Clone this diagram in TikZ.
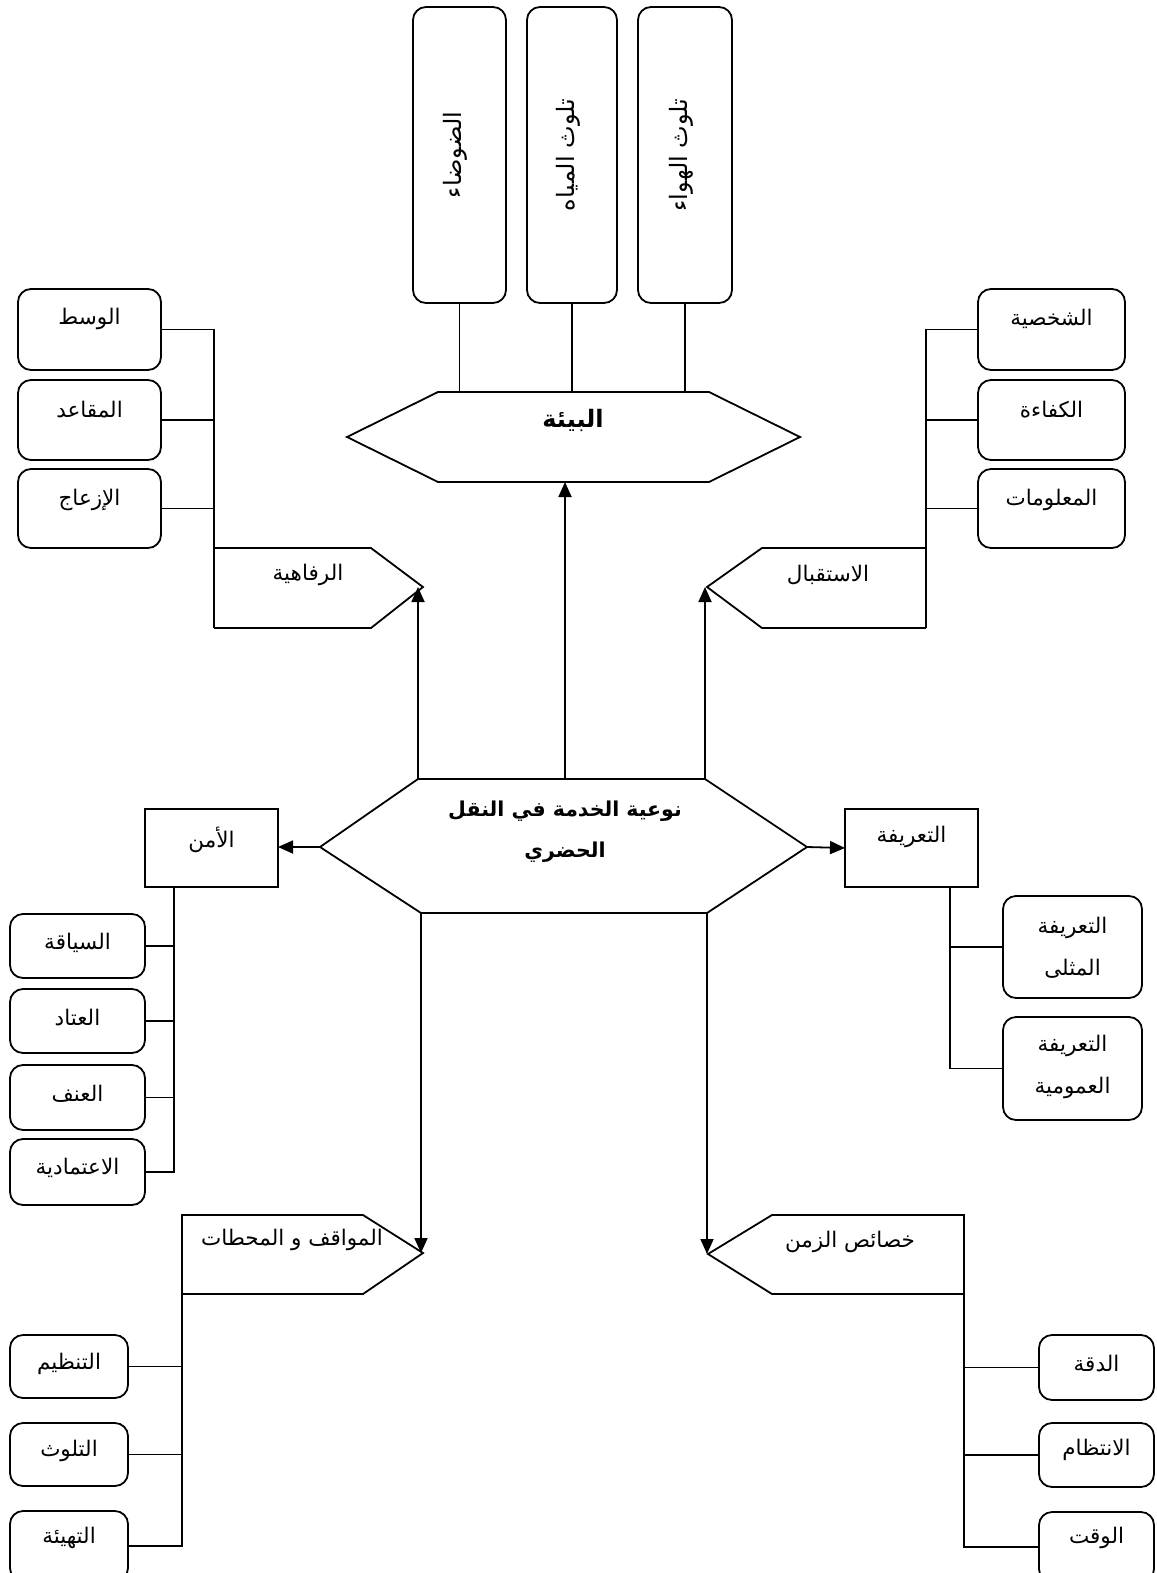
\documentclass[tikz,border=0pt]{standalone}
\usepackage{fontspec}
\usetikzlibrary{arrows.meta,calc}
\TeXXeTstate=1
\newfontfamily\arabicfont[Script=Arabic]{DejaVu Sans}
\newcommand{\rtl}[1]{\beginR #1\endR}

\begin{document}
\begin{tikzpicture}[x=1pt,y=-1pt,
  line width=1.8pt,
  every node/.style={inner sep=0pt, outer sep=0pt,
    font=\arabicfont\fontsize{21.5}{42}\selectfont, align=center},
  rbox/.style={draw, rounded corners=13pt},
  sqbox/.style={draw},
  vtext/.style={rotate=90, font=\arabicfont\fontsize{24}{30}\selectfont},
  heading/.style={font=\arabicfont\bfseries\fontsize{20.5}{41}\selectfont},
  arr/.style={-{Triangle[length=15pt,width=13pt]}},
]
\useasboundingbox (0,0) rectangle (1156,1573);
\fill[white] (0,0) rectangle (1156,1573);
\clip (0,0) rectangle (1156,1573);

% ---------- central hub ----------
\coordinate (hubL)  at (320,847);
\coordinate (hubTL) at (418,779);
\coordinate (hubT)  at (565,779);
\coordinate (hubTR) at (705,779);
\coordinate (hubR)  at (807,847);
\coordinate (hubBR) at (707,913);
\coordinate (hubBL) at (421,913);
\draw (hubL) -- (hubTL) -- (hubTR) -- (hubR) -- (hubBR) -- (hubBL) -- cycle;
\node[heading] (hub) at (565,832) {\rtl{نوعية الخدمة في النقل}\\ \rtl{الحضري}};

% ---------- environment ----------
\coordinate (envL)  at (347,437);
\coordinate (envTL) at (438,392);
\coordinate (envTR) at (709,392);
\coordinate (envR)  at (800,437);
\coordinate (envBR) at (709,482);
\coordinate (envBL) at (438,482);
\draw (envL) -- (envTL) -- (envTR) -- (envR) -- (envBR) -- (envBL) -- cycle;
\node[heading, font=\arabicfont\bfseries\fontsize{24}{30}\selectfont] (env) at (573,420) {\rtl{البيئة}};

\node[rbox, minimum width=93pt, minimum height=296pt] (noise) at (459.5,155) {};
\node[vtext] at ($(noise.center)+(-4,0)$) {\rtl{الضوضاء}};
\node[rbox, minimum width=90pt, minimum height=296pt] (water) at (572,155) {};
\node[vtext] at ($(water.center)+(-4,0)$) {\rtl{تلوث المياه}};
\node[rbox, minimum width=94pt, minimum height=296pt] (air) at (685,155) {};
\node[vtext] at ($(air.center)+(-4,0)$) {\rtl{تلوث الهواء}};
\draw (noise.south) -- (noise.south |- envTL);
\draw (water.south) -- (water.south |- envTL);
\draw (air.south) -- (air.south |- envTL);

% ---------- comfort ----------
\coordinate (rafTL) at (214,548);
\coordinate (rafTR) at (371,548);
\coordinate (rafTip) at (423,587);
\coordinate (rafBR) at (371,628);
\coordinate (rafBL) at (214,628);
\draw (rafTL) -- (rafTR) -- (rafTip) -- (rafBR) -- (rafBL);
\node (raf) at (308,575) {\rtl{الرفاهية}};

\node[rbox, minimum width=143pt, minimum height=81pt] (c1) at (89.5,329.5) {};
\node at ($(c1.center)+(0,-11)$) {\rtl{الوسط}};
\node[rbox, minimum width=143pt, minimum height=80pt] (c2) at (89.5,420) {};
\node at ($(c2.center)+(0,-10)$) {\rtl{المقاعد}};
\node[rbox, minimum width=143pt, minimum height=79pt] (c3) at (89.5,508.5) {};
\node at ($(c3.center)+(0,-9)$) {\rtl{الإزعاج}};
\draw (c1.east) -| (rafBL);
\draw (c2.east) -- (c2.east -| rafBL);
\draw (c3.east) -- (c3.east -| rafBL);

% ---------- reception ----------
\coordinate (istTR) at (926,548);
\coordinate (istTL) at (762,548);
\coordinate (istTip) at (707,587);
\coordinate (istBL) at (762,628);
\coordinate (istBR) at (926,628);
\draw (istTR) -- (istTL) -- (istTip) -- (istBL) -- (istBR);
\node (ist) at (828,575) {\rtl{الاستقبال}};

\node[rbox, minimum width=147pt, minimum height=81pt] (p1) at (1051.5,329.5) {};
\node at ($(p1.center)+(0,-11)$) {\rtl{الشخصية}};
\node[rbox, minimum width=147pt, minimum height=80pt] (p2) at (1051.5,420) {};
\node at ($(p2.center)+(0,-10)$) {\rtl{الكفاءة}};
\node[rbox, minimum width=147pt, minimum height=79pt] (p3) at (1051.5,508.5) {};
\node at ($(p3.center)+(0,-9)$) {\rtl{المعلومات}};
\draw (p1.west) -| (istBR);
\draw (p2.west) -- (p2.west -| istBR);
\draw (p3.west) -- (p3.west -| istBR);

% ---------- safety ----------
\node[sqbox, minimum width=133pt, minimum height=78pt] (amn) at (211.5,848) {};
\node at ($(amn.center)+(0,-8)$) {\rtl{الأمن}};
\coordinate (amnTrunk) at (174,887);
\node[rbox, minimum width=135pt, minimum height=64pt] (s1) at (77.5,946) {};
\node at ($(s1.center)+(0,-3)$) {\rtl{السياقة}};
\node[rbox, minimum width=135pt, minimum height=64pt] (s2) at (77.5,1021) {};
\node at ($(s2.center)+(0,-3)$) {\rtl{العتاد}};
\node[rbox, minimum width=135pt, minimum height=65pt] (s3) at (77.5,1097.5) {};
\node at ($(s3.center)+(0,-4)$) {\rtl{العنف}};
\node[rbox, minimum width=135pt, minimum height=66pt] (s4) at (77.5,1172) {};
\node at ($(s4.center)+(0,-4)$) {\rtl{الاعتمادية}};
\draw (amnTrunk) |- (s4.east);
\draw (s1.east) -- (s1.east -| amnTrunk);
\draw (s2.east) -- (s2.east -| amnTrunk);
\draw (s3.east) -- (s3.east -| amnTrunk);

% ---------- fares ----------
\node[sqbox, minimum width=133pt, minimum height=78pt] (tar) at (911.5,848) {};
\node at ($(tar.center)+(0,-11)$) {\rtl{التعريفة}};
\coordinate (tarTrunk) at (950,887);
\node[rbox, minimum width=139pt, minimum height=102pt] (f1) at (1072.5,947) {};
\node at ($(f1.center)+(0,1)$) {\rtl{التعريفة}\\ \rtl{المثلى}};
\node[rbox, minimum width=139pt, minimum height=103pt] (f2) at (1072.5,1068.5) {};
\node at ($(f2.center)+(0,-2)$) {\rtl{التعريفة}\\ \rtl{العمومية}};
\draw (tarTrunk) |- (f2.west);
\draw (f1.west) -- (f1.west -| tarTrunk);

% ---------- stops and stations ----------
\coordinate (mawTL) at (182,1215);
\coordinate (mawTR) at (363,1215);
\coordinate (mawTip) at (423,1253);
\coordinate (mawBR) at (363,1294);
\coordinate (mawBL) at (182,1294);
\draw (mawTL) -- (mawTR) -- (mawTip) -- (mawBR) -- (mawBL) -- cycle;
\node (maw) at (292,1240) {\rtl{المواقف و المحطات}};

\node[rbox, minimum width=118pt, minimum height=63pt] (b1) at (69,1366.5) {};
\node at ($(b1.center)+(0,-3)$) {\rtl{التنظيم}};
\node[rbox, minimum width=118pt, minimum height=63pt] (b2) at (69,1454.5) {};
\node at ($(b2.center)+(0,-4)$) {\rtl{التلوث}};
\node[rbox, minimum width=118pt, minimum height=70pt] (b3) at (69,1546) {};
\node at (69,1538) {\rtl{التهيئة}};
\draw (mawBL) |- (b3.east);
\draw (b1.east) -- (b1.east -| mawBL);
\draw (b2.east) -- (b2.east -| mawBL);

% ---------- time characteristics ----------
\coordinate (zmTR) at (964,1215);
\coordinate (zmTL) at (772,1215);
\coordinate (zmTip) at (708,1254);
\coordinate (zmBL) at (772,1294);
\coordinate (zmBR) at (964,1294);
\draw (zmTR) -- (zmTL) -- (zmTip) -- (zmBL) -- (zmBR) -- cycle;
\node (zm) at (850,1242) {\rtl{خصائص الزمن}};

\node[rbox, minimum width=115pt, minimum height=65pt] (d1) at (1096.5,1367.5) {};
\node at ($(d1.center)+(0,-4)$) {\rtl{الدقة}};
\node[rbox, minimum width=115pt, minimum height=64pt] (d2) at (1096.5,1455) {};
\node at ($(d2.center)+(0,-5)$) {\rtl{الانتظام}};
\node[rbox, minimum width=115pt, minimum height=70pt] (d3) at (1096.5,1547) {};
\node at (1096.5,1538) {\rtl{الوقت}};
\draw (zmBR) |- (d3.west);
\draw (d1.west) -- (d1.west -| zmBR);
\draw (d2.west) -- (d2.west -| zmBR);

% ---------- arrows from the hub ----------
\draw[arr] (hubTL) -- (hubTL |- rafTip);
\draw[arr] (hubT) -- (hubT |- envBL);
\draw[arr] (hubTR) -- (hubTR |- istTip);
\draw[arr] (hubL) -- (hubL -| amn.east);
\draw[arr] (hubR) -- (tar.west);
\draw[arr] (hubBL) -- (hubBL |- mawTip);
\draw[arr] (hubBR) -- (hubBR |- zmTip);
\end{tikzpicture}
\end{document}
